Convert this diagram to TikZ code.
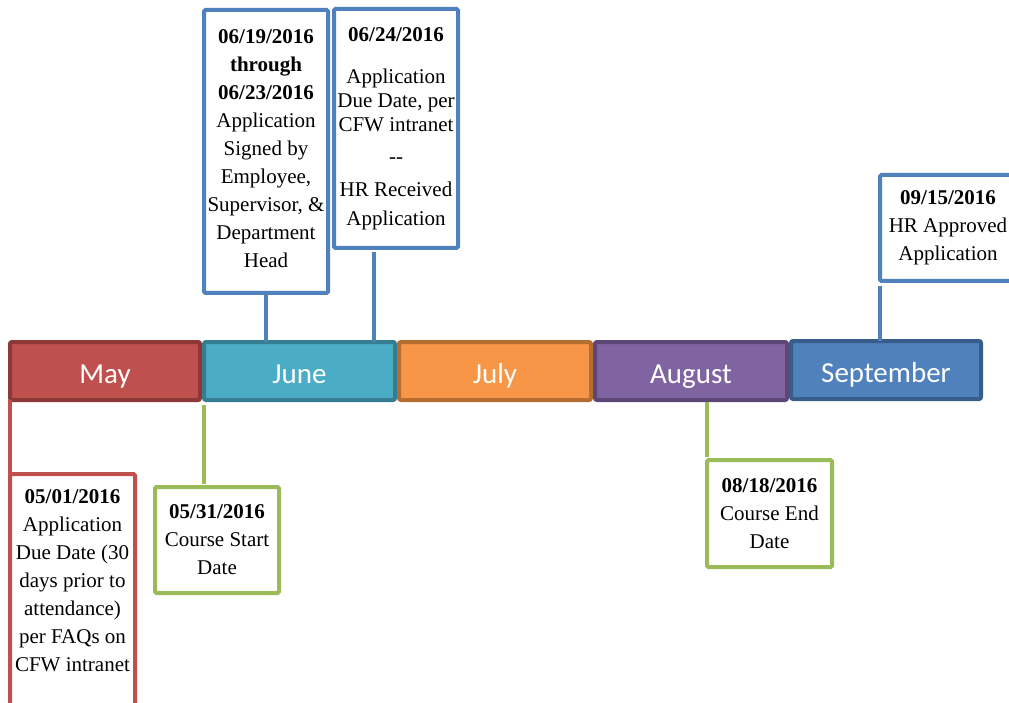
\documentclass[tikz,border=0pt]{standalone}
\usepackage{fontspec}
\setmainfont{Liberation Serif}
\newfontfamily\monthfont{Carlito}
\definecolor{mayF}{HTML}{C0504D}
\definecolor{mayD}{HTML}{8C3836}
\definecolor{juneF}{HTML}{4BACC6}
\definecolor{juneD}{HTML}{357D91}
\definecolor{julyF}{HTML}{F79646}
\definecolor{julyD}{HTML}{B66D31}
\definecolor{augF}{HTML}{8064A2}
\definecolor{augD}{HTML}{5C4776}
\definecolor{sepF}{HTML}{4F81BD}
\definecolor{sepD}{HTML}{385D8A}
\definecolor{grn}{HTML}{9BBB59}
\begin{document}
\begin{tikzpicture}[x=1pt,y=-1pt,
  month/.style={draw, line width=4pt, rounded corners=2pt, minimum height=58pt, outer sep=0pt, inner sep=0pt, text height=26pt, text depth=2pt, text=white, font=\monthfont\fontsize{29}{34}\selectfont},
  evbox/.style={draw, fill=white, line width=4pt, rounded corners=1.5pt, outer sep=0pt, inner xsep=0pt, align=center, text=black, font=\fontsize{21}{28}\selectfont},
  link/.style={line width=4pt}]
\useasboundingbox (0,0) rectangle (1009,703);
\clip (0,0) rectangle (1009,703);
% month bars
\node[month, fill=mayF, draw=mayD, minimum width=190pt] (may) at (105,371) {May};
\node[month, fill=juneF, draw=juneD, minimum width=191pt] (june) at (299.5,371) {June};
\node[month, fill=julyF, draw=julyD, minimum width=192pt] (july) at (495,371) {July};
\node[month, fill=augF, draw=augD, minimum width=192pt] (aug) at (691,371) {August};
\node[month, fill=sepF, draw=sepD, minimum width=190pt] (sep) at (886,370) {September};
% event boxes
\node[evbox, draw=mayF, minimum width=125pt, anchor=north, inner ysep=16pt] (b1) at (72.5,474)
  {\textbf{05/01/2016}\\Application\\Due Date (30\\days prior to\\attendance)\\per FAQs on\\CFW intranet\rule[-60pt]{0pt}{0pt}};
\node[evbox, draw=grn, minimum width=124pt, minimum height=106pt] (b2) at (217,540)
  {\textbf{05/31/2016}\\Course Start\\Date};
\node[evbox, draw=sepF, minimum width=124pt, minimum height=283pt, text depth=6pt] (b3) at (266,151.5)
  {\textbf{06/19/2016}\\\textbf{through}\\\textbf{06/23/2016}\\Application\\Signed by\\Employee,\\Supervisor, \&\\Department\\Head};
\node[evbox, draw=sepF, minimum width=124pt, minimum height=239pt, font=\fontsize{21}{24}\selectfont] (b4) at (396,128.5)
  {\textbf{06/24/2016}\\[18pt]Application\\Due Date, per\\CFW intranet\\[8pt]-{}-\\[9pt]HR Received\\[5pt]Application};
\node[evbox, draw=grn, minimum width=125pt, minimum height=107pt] (b5) at (769.5,513.5)
  {\textbf{08/18/2016}\\Course End\\Date};
\node[evbox, draw=sepF, minimum width=136pt, minimum height=106pt] (b6) at (948,228)
  {\textbf{09/15/2016}\\HR Approved\\Application};
% connectors
\coordinate (c4) at (374,0);
\draw[link, mayF] (may.south west) -- (b1.north west);
\draw[link, grn, shorten <=5pt, shorten >=3pt] (june.south west) -- (june.south west |- b2.north);
\draw[link, sepF] (b3.south) -- (b3.south |- june.north);
\draw[link, sepF, shorten <=4pt] (c4 |- b4.south) -- (c4 |- june.north);
\draw[link, sepF, shorten <=5pt] (b6.south west) -- (b6.south west |- sep.north);
\draw[link, grn, shorten <=2pt, shorten >=3pt] (aug.south -| b5.north west) -- (b5.north west);
\end{tikzpicture}
\end{document}
